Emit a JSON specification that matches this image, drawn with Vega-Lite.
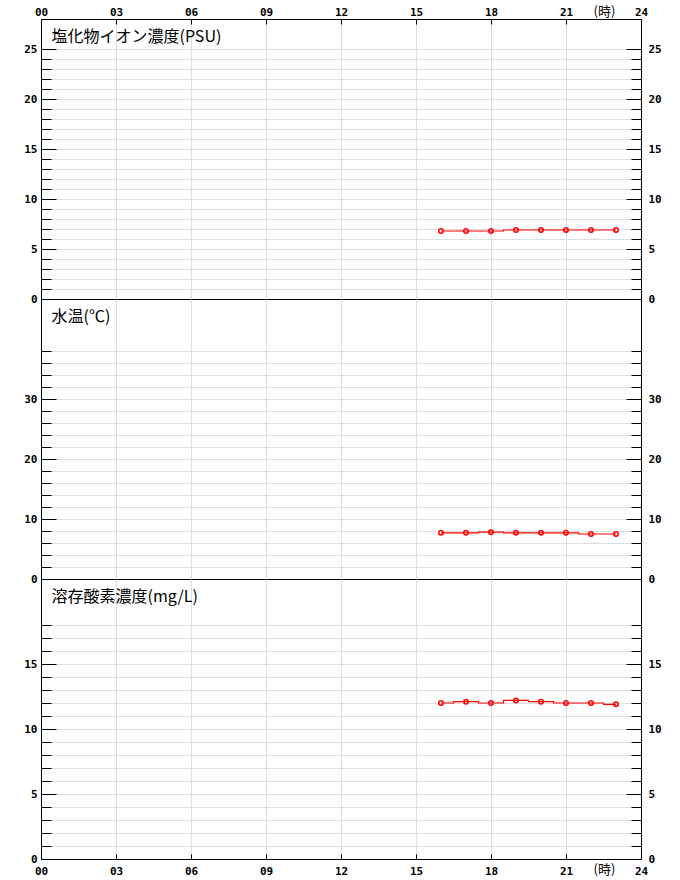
{
  "$schema": "https://vega.github.io/schema/vega-lite/v6.json",
  "padding": {"left": 23, "top": 4, "right": 10, "bottom": 4},
  "background": "white",
  "data": {
    "values": [
      {"hour": 16, "sal": 6.8, "temp": 7.7, "do": 12.0},
      {"hour": 17, "sal": 6.8, "temp": 7.7, "do": 12.1},
      {"hour": 18, "sal": 6.8, "temp": 7.8, "do": 12.0},
      {"hour": 19, "sal": 6.9, "temp": 7.7, "do": 12.2},
      {"hour": 20, "sal": 6.9, "temp": 7.7, "do": 12.1},
      {"hour": 21, "sal": 6.9, "temp": 7.7, "do": 12.0},
      {"hour": 22, "sal": 6.9, "temp": 7.5, "do": 12.0},
      {"hour": 23, "sal": 6.9, "temp": 7.5, "do": 11.9}
    ]
  },
  "spacing": 0,
  "bounds": "flush",
  "vconcat": [
    {
      "width": 600,
      "height": 280,
      "resolve": {"axis": {"x": "independent", "y": "independent"}},
      "layer": [
        {
          "mark": {"type": "line", "interpolate": "step", "color": "#ff0000", "strokeWidth": 1.2},
          "encoding": {
            "x": {
              "field": "hour", "type": "quantitative",
              "scale": {"domain": [0, 24], "nice": false},
              "axis": {
                "orient": "top",
                "values": [0, 3, 6, 9, 12, 15, 18, 21, 24],
                "grid": true,
                "gridColor": {"condition": {"test": "datum.value == 0 || datum.value == 24", "value": "transparent"}, "value": "#dddddd"},
                "tickSize": -5,
                "labelPadding": 7,
                "labelFlush": false,
                "labelOverlap": false,
                "labelExpr": "datum.value < 10 ? '0' + datum.value : '' + datum.value",
                "title": "(時)",
                "titleX": 563,
                "titleY": -8,
                "titleAlign": "center",
                "titleBaseline": "middle",
                "titleFontSize": 13
              }
            },
            "y": {
              "field": "sal", "type": "quantitative",
              "scale": {"domain": [0, 28], "nice": false},
              "axis": {
                "orient": "left",
                "values": [1, 2, 3, 4, 5, 6, 7, 8, 9, 10, 11, 12, 13, 14, 15, 16, 17, 18, 19, 20, 21, 22, 23, 24, 25],
                "grid": true, "labels": false, "tickSize": -10, "title": null
              }
            }
          }
        },
        {
          "mark": {"type": "point", "shape": "circle", "filled": false, "color": "#ff0000", "size": 20, "strokeWidth": 1.5, "opacity": 1},
          "encoding": {
            "x": {"field": "hour", "type": "quantitative", "scale": {"domain": [0, 24], "nice": false}, "axis": null},
            "y": {
              "field": "sal", "type": "quantitative",
              "scale": {"domain": [0, 28], "nice": false},
              "axis": {
                "orient": "left",
                "values": [0, 5, 10, 15, 20, 25],
                "grid": false, "tickSize": -15, "labelPadding": 19, "format": "d",
                "title": "塩化物イオン濃度(PSU)",
                "titleAngle": 0, "titleAlign": "left", "titleBaseline": "middle",
                "titleX": 10, "titleY": 17.5, "titleFontSize": 16
              }
            }
          }
        },
        {
          "mark": {"type": "point", "opacity": 0},
          "encoding": {
            "x": {"field": "hour", "type": "quantitative", "scale": {"domain": [0, 24], "nice": false}, "axis": null},
            "y": {
              "field": "sal", "type": "quantitative",
              "scale": {"domain": [0, 28], "nice": false},
              "axis": {
                "orient": "right",
                "values": [1, 2, 3, 4, 5, 6, 7, 8, 9, 10, 11, 12, 13, 14, 15, 16, 17, 18, 19, 20, 21, 22, 23, 24, 25],
                "grid": false, "labels": false, "tickSize": -10, "title": null
              }
            }
          }
        },
        {
          "mark": {"type": "point", "opacity": 0},
          "encoding": {
            "x": {"field": "hour", "type": "quantitative", "scale": {"domain": [0, 24], "nice": false}, "axis": null},
            "y": {
              "field": "sal", "type": "quantitative",
              "scale": {"domain": [0, 28], "nice": false},
              "axis": {
                "orient": "right",
                "values": [0, 5, 10, 15, 20, 25],
                "grid": false, "tickSize": -15, "labelPadding": 22, "format": "d", "title": null
              }
            }
          }
        }
      ]
    },
    {
      "width": 600,
      "height": 280,
      "resolve": {"axis": {"x": "independent", "y": "independent"}},
      "layer": [
        {
          "mark": {"type": "line", "interpolate": "step", "color": "#ff0000", "strokeWidth": 1.2},
          "encoding": {
            "x": {
              "field": "hour", "type": "quantitative",
              "scale": {"domain": [0, 24], "nice": false},
              "axis": {
                "orient": "bottom",
                "values": [3, 6, 9, 12, 15, 18, 21],
                "grid": true, "ticks": false, "labels": false, "title": null
              }
            },
            "y": {
              "field": "temp", "type": "quantitative",
              "scale": {"domain": [0, 46.6667], "nice": false},
              "axis": {
                "orient": "left",
                "values": [2, 4, 6, 8, 10, 12, 14, 16, 18, 20, 22, 24, 26, 28, 30, 32, 34, 36, 38],
                "grid": true, "labels": false, "tickSize": -10, "title": null
              }
            }
          }
        },
        {
          "mark": {"type": "point", "shape": "circle", "filled": false, "color": "#ff0000", "size": 20, "strokeWidth": 1.5, "opacity": 1},
          "encoding": {
            "x": {"field": "hour", "type": "quantitative", "scale": {"domain": [0, 24], "nice": false}, "axis": null},
            "y": {
              "field": "temp", "type": "quantitative",
              "scale": {"domain": [0, 46.6667], "nice": false},
              "axis": {
                "orient": "left",
                "values": [0, 10, 20, 30],
                "grid": false, "tickSize": -15, "labelPadding": 19, "format": "d",
                "title": "水温(℃)",
                "titleAngle": 0, "titleAlign": "left", "titleBaseline": "middle",
                "titleX": 10, "titleY": 17.5, "titleFontSize": 16
              }
            }
          }
        },
        {
          "mark": {"type": "point", "opacity": 0},
          "encoding": {
            "x": {"field": "hour", "type": "quantitative", "scale": {"domain": [0, 24], "nice": false}, "axis": null},
            "y": {
              "field": "temp", "type": "quantitative",
              "scale": {"domain": [0, 46.6667], "nice": false},
              "axis": {
                "orient": "right",
                "values": [2, 4, 6, 8, 10, 12, 14, 16, 18, 20, 22, 24, 26, 28, 30, 32, 34, 36, 38],
                "grid": false, "labels": false, "tickSize": -10, "title": null
              }
            }
          }
        },
        {
          "mark": {"type": "point", "opacity": 0},
          "encoding": {
            "x": {"field": "hour", "type": "quantitative", "scale": {"domain": [0, 24], "nice": false}, "axis": null},
            "y": {
              "field": "temp", "type": "quantitative",
              "scale": {"domain": [0, 46.6667], "nice": false},
              "axis": {
                "orient": "right",
                "values": [0, 10, 20, 30],
                "grid": false, "tickSize": -15, "labelPadding": 22, "format": "d", "title": null
              }
            }
          }
        }
      ]
    },
    {
      "width": 600,
      "height": 280,
      "resolve": {"axis": {"x": "independent", "y": "independent"}},
      "layer": [
        {
          "mark": {"type": "line", "interpolate": "step", "color": "#ff0000", "strokeWidth": 1.2},
          "encoding": {
            "x": {
              "field": "hour", "type": "quantitative",
              "scale": {"domain": [0, 24], "nice": false},
              "axis": {
                "orient": "bottom",
                "values": [0, 3, 6, 9, 12, 15, 18, 21, 24],
                "grid": true,
                "gridColor": {"condition": {"test": "datum.value == 0 || datum.value == 24", "value": "transparent"}, "value": "#dddddd"},
                "tickSize": -5,
                "labelPadding": 11,
                "labelFlush": false,
                "labelOverlap": false,
                "labelExpr": "datum.value < 10 ? '0' + datum.value : '' + datum.value",
                "title": "(時)",
                "titleX": 563,
                "titleY": 10.5,
                "titleAlign": "center",
                "titleBaseline": "middle",
                "titleFontSize": 13
              }
            },
            "y": {
              "field": "do", "type": "quantitative",
              "scale": {"domain": [0, 21.5385], "nice": false},
              "axis": {
                "orient": "left",
                "values": [1, 2, 3, 4, 5, 6, 7, 8, 9, 10, 11, 12, 13, 14, 15, 16, 17, 18],
                "grid": true, "labels": false, "tickSize": -10, "title": null
              }
            }
          }
        },
        {
          "mark": {"type": "point", "shape": "circle", "filled": false, "color": "#ff0000", "size": 20, "strokeWidth": 1.5, "opacity": 1},
          "encoding": {
            "x": {"field": "hour", "type": "quantitative", "scale": {"domain": [0, 24], "nice": false}, "axis": null},
            "y": {
              "field": "do", "type": "quantitative",
              "scale": {"domain": [0, 21.5385], "nice": false},
              "axis": {
                "orient": "left",
                "values": [0, 5, 10, 15],
                "grid": false, "tickSize": -15, "labelPadding": 19, "format": "d",
                "title": "溶存酸素濃度(mg/L)",
                "titleAngle": 0, "titleAlign": "left", "titleBaseline": "middle",
                "titleX": 10, "titleY": 17, "titleFontSize": 16
              }
            }
          }
        },
        {
          "mark": {"type": "point", "opacity": 0},
          "encoding": {
            "x": {"field": "hour", "type": "quantitative", "scale": {"domain": [0, 24], "nice": false}, "axis": null},
            "y": {
              "field": "do", "type": "quantitative",
              "scale": {"domain": [0, 21.5385], "nice": false},
              "axis": {
                "orient": "right",
                "values": [1, 2, 3, 4, 5, 6, 7, 8, 9, 10, 11, 12, 13, 14, 15, 16, 17, 18],
                "grid": false, "labels": false, "tickSize": -10, "title": null
              }
            }
          }
        },
        {
          "mark": {"type": "point", "opacity": 0},
          "encoding": {
            "x": {"field": "hour", "type": "quantitative", "scale": {"domain": [0, 24], "nice": false}, "axis": null},
            "y": {
              "field": "do", "type": "quantitative",
              "scale": {"domain": [0, 21.5385], "nice": false},
              "axis": {
                "orient": "right",
                "values": [0, 5, 10, 15],
                "grid": false, "tickSize": -15, "labelPadding": 22, "format": "d", "title": null
              }
            }
          }
        }
      ]
    }
  ],
  "config": {
    "view": {"stroke": "#000000", "strokeWidth": 1},
    "axis": {
      "domain": false,
      "tickColor": "#000000",
      "tickWidth": 1,
      "labelColor": "#000000",
      "labelFont": "DejaVu Sans Mono",
      "labelFontSize": 11,
      "labelFontWeight": "bold",
      "gridColor": "#dddddd",
      "gridWidth": 1,
      "titleFont": "Noto Sans CJK JP",
      "titleFontWeight": "normal",
      "titleColor": "#000000"
    }
  }
}
